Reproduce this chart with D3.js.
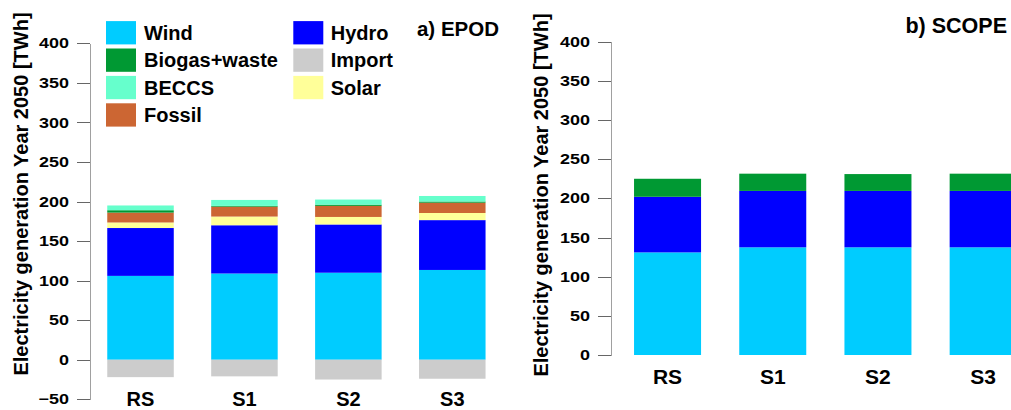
<!DOCTYPE html>
<html>
<head>
<meta charset="utf-8">
<script src="https://cdn.jsdelivr.net/npm/d3@7"></script>
<style>
  html, body { margin: 0; padding: 0; background: #fff; }
  svg { display: block; font-family: "Liberation Sans", Arial, sans-serif; font-weight: bold; }
</style>
</head>
<body>
<svg id="chart" width="1011" height="410"></svg>
<script>
// Scenarios
const categories = ["RS", "S1", "S2", "S3"];

// EPOD model, electricity generation 2050 [TWh]
const epodWind   = [106, 109, 110, 113.5];
const epodHydro  = [60.5, 61, 61, 63];
const epodSolar  = [7, 11, 9.5, 9];
const epodFossil = [12.5, 12.5, 14, 13];
const epodBiogas = [3, 1, 1.5, 1.5];
const epodBeccs  = [6, 7.5, 6.5, 7];
const epodImport = [-22, -21, -25, -24];

// SCOPE model, electricity generation 2050 [TWh]
const scopeWind   = [131, 137.5, 137.5, 137.5];
const scopeHydro  = [71, 72, 72, 72];
const scopeBiogas = [23, 22, 21.5, 22];

// Axis ticks
const epodTicks  = [-50, 0, 50, 100, 150, 200, 250, 300, 350, 400];
const scopeTicks = [0, 50, 100, 150, 200, 250, 300, 350, 400];

const colors = {
  "Wind": "#00CCFF",
  "Hydro": "#0000FF",
  "Biogas+waste": "#009933",
  "Import": "#CCCCCC",
  "BECCS": "#66FFCC",
  "Solar": "#FFFF99",
  "Fossil": "#CC6633"
};

const legendCol1 = ["Wind", "Biogas+waste", "BECCS", "Fossil"];
const legendCol2 = ["Hydro", "Import", "Solar"];

const yTitle = "Electricity generation Year 2050 [TWh]";

const svg = d3.select("#chart");

// Build stacked segments (positive stack from 0 upward, negatives below 0)
function buildSegments(series) {
  const segs = [];
  categories.forEach((cat, i) => {
    let pos = 0, neg = 0;
    series.forEach(s => {
      const v = s.values[i];
      if (v >= 0) {
        segs.push({ cat, key: s.key, y0: pos, y1: pos + v });
        pos += v;
      } else {
        segs.push({ cat, key: s.key, y0: neg + v, y1: neg });
        neg += v;
      }
    });
  });
  return segs;
}

function drawPanel(cfg) {
  const g = svg.append("g");
  const x = d3.scaleBand().domain(categories)
    .range(cfg.xRange).paddingInner(cfg.padIn).paddingOuter(cfg.padOut);
  const y = d3.scaleLinear().domain(cfg.yDomain).range(cfg.yRange);

  const segs = buildSegments(cfg.series);
  g.append("g").selectAll("rect").data(segs).join("rect")
    .attr("x", d => x(d.cat))
    .attr("width", x.bandwidth())
    .attr("y", d => y(d.y1))
    .attr("height", d => y(d.y0) - y(d.y1))
    .attr("fill", d => colors[d.key]);

  // y axis
  const sx = 1.24;
  const ax = g.append("g")
    .attr("transform", `translate(${cfg.xRange[0]},0)`)
    .call(d3.axisLeft(y).tickValues(cfg.ticks).tickSize(13).tickSizeOuter(0).tickPadding(8));
  ax.select(".domain").attr("stroke", "#a0a0a0").attr("shape-rendering", "crispEdges");
  ax.selectAll(".tick line").attr("stroke", "#666").attr("shape-rendering", "crispEdges");
  ax.selectAll(".tick text")
    .attr("font-size", 14.5)
    .attr("font-weight", "bold")
    .attr("fill", "#000")
    .attr("font-family", "Liberation Sans, Arial, sans-serif")
    .attr("x", -21 / sx)
    .attr("transform", `scale(${sx},1)`);

  // category labels
  g.append("g").selectAll("text").data(categories).join("text")
    .attr("x", d => x(d) + x.bandwidth() / 2)
    .attr("y", cfg.catY)
    .attr("text-anchor", "middle")
    .attr("font-size", cfg.catSize)
    .text(d => d);

  // y title
  g.append("text")
    .attr("transform", `translate(${cfg.titleX},${cfg.titleY}) rotate(-90)`)
    .attr("text-anchor", "middle")
    .attr("font-size", 20)
    .text(yTitle);

  // panel label
  g.append("text")
    .attr("x", cfg.labelX).attr("y", cfg.labelY)
    .attr("text-anchor", "end")
    .attr("font-size", cfg.labelSize)
    .text(cfg.label);
}

drawPanel({
  series: [
    { key: "Wind", values: epodWind },
    { key: "Hydro", values: epodHydro },
    { key: "Solar", values: epodSolar },
    { key: "Fossil", values: epodFossil },
    { key: "Biogas+waste", values: epodBiogas },
    { key: "BECCS", values: epodBeccs },
    { key: "Import", values: epodImport }
  ],
  xRange: [90, 502.8], padIn: 0.36, padOut: 0.166,
  yDomain: [-50, 400], yRange: [399.3, 43.3], ticks: epodTicks,
  catY: 406, catSize: 20,
  titleX: 28, titleY: 194,
  label: "a) EPOD", labelX: 499, labelY: 36, labelSize: 20.5
});

drawPanel({
  series: [
    { key: "Wind", values: scopeWind },
    { key: "Hydro", values: scopeHydro },
    { key: "Biogas+waste", values: scopeBiogas }
  ],
  xRange: [611, 1039.7], padIn: 0.363, padOut: 0.219,
  yDomain: [0, 400], yRange: [355, 41.7], ticks: scopeTicks,
  catY: 384, catSize: 21,
  titleX: 548, titleY: 195,
  label: "b) SCOPE", labelX: 1007, labelY: 32.5, labelSize: 21.5
});

// Legend
const legend = svg.append("g");
function legendColumn(keys, sxPos, txPos) {
  keys.forEach((k, i) => {
    const cy = 32.7 + i * 27.4;
    legend.append("rect")
      .attr("x", sxPos).attr("y", cy - 11.6)
      .attr("width", 30).attr("height", 23.3)
      .attr("fill", colors[k]);
    legend.append("text")
      .attr("x", txPos).attr("y", cy + 7)
      .attr("font-size", 20)
      .text(k);
  });
}
legendColumn(legendCol1, 106, 144);
legendColumn(legendCol2, 293.3, 330.7);
</script>
</body>
</html>
